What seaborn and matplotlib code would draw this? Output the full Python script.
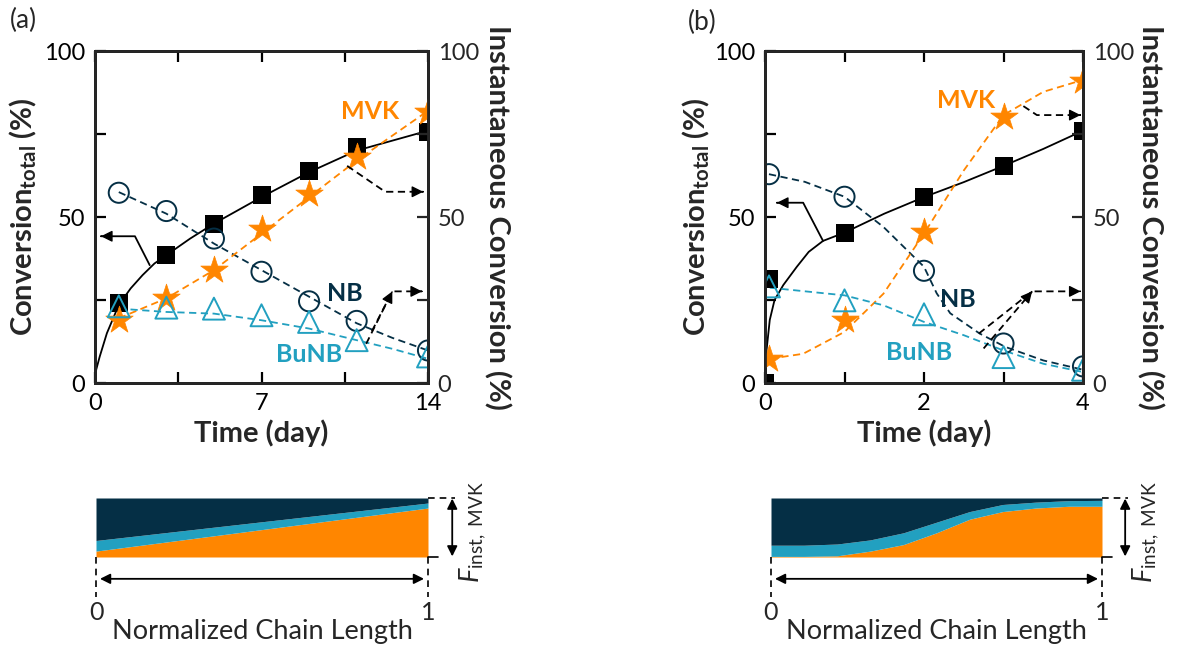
import matplotlib
matplotlib.use("Agg")
import matplotlib.pyplot as plt
import seaborn as sns
import pandas as pd

sns.set_theme(style="ticks")
FONT = "Lato"
plt.rcParams["font.family"] = [FONT, "DejaVu Sans"]
plt.rcParams["mathtext.fontset"] = "custom"
plt.rcParams["mathtext.rm"] = FONT
plt.rcParams["mathtext.bf"] = FONT + ":bold"
plt.rcParams["mathtext.it"] = FONT + ":italic"

NAVY = "#052F45"
LBLUE = "#22A0C0"
ORANGE = "#FF8600"

# ---------------- Panel (a) data ----------------
a_days = [1, 3, 5, 7, 9, 11, 14]
a_total = [24, 38.5, 48, 56.6, 63.8, 71.2, 75.7]
a_nb = [57.3, 51.8, 43.5, 33.5, 24.6, 18.7, 9.8]
a_mvk = [19.1, 25.6, 34, 46.5, 56.8, 68.1, 81.7]
a_bunb = [23.1, 22.7, 22.4, 20.4, 18.4, 12.9, 8.0]

a_fit_total_x = [0, 0.05, 0.2, 0.5, 1, 1.5, 2, 2.5, 3, 4, 5, 7, 9, 11, 14]
a_fit_total_y = [0, 4, 8, 15, 23.5, 28.5, 32.5, 36, 38.5, 43.5, 48, 56, 63.5, 70, 76]
a_fit_nb_x = [1, 3, 5, 7, 9, 11, 12.5, 14]
a_fit_nb_y = [57.5, 51, 42, 34, 26, 18, 13.6, 9.8]
a_fit_mvk_x = [1, 3, 5, 7, 9, 11, 14]
a_fit_mvk_y = [19.5, 25.5, 34, 45, 56, 67, 82]
a_fit_bunb_x = [1, 3, 5, 7, 9, 11, 12.5, 14]
a_fit_bunb_y = [22.4, 21.4, 20.9, 18.9, 16.4, 12.9, 10.3, 7.3]

# ---------------- Panel (b) data ----------------
b_days_total = [0, 0.05, 1, 2, 3, 4]
b_total = [0, 31.2, 45.3, 55.9, 65.4, 75.9]
b_days = [0.05, 1, 2, 3, 4]
b_nb = [62.9, 56.1, 33.8, 11.9, 5.0]
b_mvk = [7.3, 19.1, 45.5, 80.2, 91.0]
b_bunb = [29.1, 24.9, 20.7, 7.8, 4.0]

b_fit_total_x = [0, 0.02, 0.06, 0.12, 0.23, 0.4, 0.55, 0.73, 1, 1.5, 2, 2.5, 3, 3.5, 4]
b_fit_total_y = [0, 10, 19, 25, 29.5, 35, 39.5, 42.8, 45.3, 51, 56, 60.5, 65.4, 70.5, 76]
b_fit_nb_x = [0.05, 0.5, 1, 1.49, 2, 2.16, 2.33, 2.7, 3.02, 3.5, 4]
b_fit_nb_y = [62.9, 60.6, 56.1, 47, 35, 27, 21, 14.9, 10.9, 6.8, 4]
b_fit_mvk_x = [0.06, 0.48, 1, 1.49, 2, 2.5, 3, 3.5, 4]
b_fit_mvk_y = [7.3, 8.8, 15.4, 26.9, 45, 64, 80.7, 87.7, 91.3]
b_fit_bunb_x = [0.06, 1, 1.49, 2, 2.5, 3, 3.5, 4]
b_fit_bunb_y = [28.7, 26.4, 23.4, 18.4, 14.4, 9.8, 5.8, 3.3]

# ---------------- Chain-length bars ----------------
bar_a_x = [0, 1]
bar_a_orange = [0.10, 0.83]
bar_a_blue = [0.28, 0.915]
bar_b_x = [0, 0.1, 0.2, 0.3, 0.4, 0.5, 0.6, 0.7, 0.8, 0.9, 1.0]
bar_b_orange = [0.01, 0.01, 0.02, 0.10, 0.21, 0.41, 0.64, 0.77, 0.83, 0.86, 0.86]
bar_b_blue = [0.20, 0.20, 0.22, 0.29, 0.41, 0.59, 0.77, 0.89, 0.93, 0.955, 0.96]

LW = 1.3
DASH = (4, 2.5)
LABEL_FS = 21


def fit_line(ax, x, y, color, dashed=True):
    df = pd.DataFrame({"x": x, "y": y})
    line = sns.lineplot(data=df, x="x", y="y", ax=ax, color=color, lw=LW,
                        sort=False, estimator=None, zorder=2)
    if dashed:
        line.lines[-1].set_dashes(DASH)


def arrow_path(ax, xs, ys, dashed):
    ln, = ax.plot(xs, ys, color="black", lw=LW, zorder=4)
    if dashed:
        ln.set_dashes(DASH)
    ex, ey = xs[-1], ys[-1]
    px, py = xs[-2], ys[-2]
    ax.annotate("", xy=(ex, ey), xytext=(ex - (ex - px) * 0.01, ey - (ey - py) * 0.01),
                arrowprops=dict(arrowstyle="-|>", color="black", lw=1,
                                mutation_scale=17, shrinkA=0, shrinkB=0), zorder=5)


def main_panel(ax, xmax, xticks, xticklabels, days_total, total, days, nb, mvk, bunb,
               fits, arrows, labels, right_x):
    ax.set_xlim(0, xmax)
    ax.set_ylim(0, 100)
    (ftx, fty), (fnx, fny), (fmx, fmy), (fbx, fby) = fits
    fit_line(ax, ftx, fty, "black", dashed=False)
    fit_line(ax, fnx, fny, NAVY)
    fit_line(ax, fmx, fmy, ORANGE)
    fit_line(ax, fbx, fby, LBLUE)

    sns.scatterplot(x=days_total, y=total, marker="s", s=175, color="black",
                    edgecolor="black", linewidth=0, ax=ax, zorder=3)
    sns.scatterplot(x=days, y=nb, marker="o", s=210, facecolor="none",
                    edgecolor=NAVY, linewidth=1.4, ax=ax, zorder=3)
    sns.scatterplot(x=days, y=mvk, marker="*", s=430, color=ORANGE,
                    edgecolor=ORANGE, linewidth=0.5, ax=ax, zorder=3)
    sns.scatterplot(x=days, y=bunb, marker="^", s=250, facecolor="none",
                    edgecolor=LBLUE, linewidth=1.4, ax=ax, zorder=3)

    for xs, ys, dashed in arrows:
        arrow_path(ax, xs, ys, dashed)
    for (tx, ty, txt, col) in labels:
        ax.text(tx, ty, txt, color=col, fontsize=18, fontweight="bold",
                ha="center", va="center", zorder=6)

    ax.set_xticks(xticks)
    ax.set_xticklabels(xticklabels)
    ax.set_yticks([0, 25, 50, 75, 100])
    ax.set_yticklabels(["0", "", "50", "", "100"])
    ax.tick_params(direction="in", length=8, width=1.6, labelsize=17, top=True,
                   pad=7, colors="black")
    ax.set_xlabel("")
    ax.set_ylabel("")
    for sp in ax.spines.values():
        sp.set_linewidth(2)
        sp.set_color("black")
    tw = ax.twinx()
    tw.set_ylim(0, 100)
    tw.set_yticks([0, 25, 50, 75, 100])
    tw.set_yticklabels(["0", "", "50", "", "100"])
    tw.tick_params(direction="in", length=8, width=1.6, labelsize=17, pad=7)
    for sp in tw.spines.values():
        sp.set_linewidth(2)
    ax.text(0.5, -0.15, "Time (day)", transform=ax.transAxes, fontsize=LABEL_FS,
            fontweight="bold", ha="center", va="center")
    ax.text(-0.215, 0.5, r"Conversion$_{\mathbf{total}}$ (%)", transform=ax.transAxes,
            fontsize=LABEL_FS, fontweight="bold", ha="center", va="center", rotation=90)
    ax.text(right_x, 0.5, "Instantaneous Conversion (%)", transform=ax.transAxes,
            fontsize=LABEL_FS, fontweight="bold", ha="center", va="center", rotation=270)
    return tw


def bar_panel(ax, x, orange, blue, arrow_x):
    ax.fill_between(x, 0, orange, color=ORANGE, lw=0)
    ax.fill_between(x, orange, blue, color=LBLUE, lw=0)
    ax.fill_between(x, blue, 1, color=NAVY, lw=0)
    ax.set_xlim(0, 1)
    ax.set_ylim(0, 1)
    ax.axis("off")
    for xv in (0, 1):
        l, = ax.plot([xv, xv], [0, -0.68], color="black", lw=1.2, clip_on=False)
        l.set_dashes((4, 3))
    l, = ax.plot([1, 1.08], [1, 1], color="black", lw=1.2, clip_on=False)
    l.set_dashes((4, 3))
    ax.plot([1, 1.03], [0, 0], color="black", lw=1.2, clip_on=False)
    ax.annotate("", xy=(0.012, -0.37), xytext=(0.988, -0.37), xycoords="data",
                arrowprops=dict(arrowstyle="<|-|>", color="black", lw=1.3,
                                mutation_scale=15, shrinkA=0, shrinkB=0),
                annotation_clip=False)
    ax.annotate("", xy=(arrow_x, 0.99), xytext=(arrow_x, 0.01), xycoords="data",
                arrowprops=dict(arrowstyle="<|-|>", color="black", lw=1.3,
                                mutation_scale=15, shrinkA=0, shrinkB=0),
                annotation_clip=False)
    ax.text(0, -0.94, "0", fontsize=18, ha="center", va="center")
    ax.text(1, -0.94, "1", fontsize=18, ha="center", va="center")
    ax.text(0.5, -1.27, "Normalized Chain Length", fontsize=19.5, ha="center", va="center")
    ax.text(arrow_x + 0.062, 0.42, r"$\mathit{F}_{\mathrm{inst,\ MVK}}$", fontsize=19.5,
            ha="center", va="center", rotation=90)


fig = plt.figure(figsize=(11.96, 6.47), dpi=100)
W, H = 1196, 647


def ax_px(x0, x1, y0, y1):
    return fig.add_axes([x0 / W, 1 - y1 / H, (x1 - x0) / W, (y1 - y0) / H])


axA = ax_px(95, 428, 51, 383)
axB = ax_px(765, 1083, 51, 383)

main_panel(
    axA, 14, [0, 3.5, 7, 10.5, 14], ["0", "", "7", "", "14"],
    a_days, a_total, a_days, a_nb, a_mvk, a_bunb,
    [(a_fit_total_x, a_fit_total_y), (a_fit_nb_x, a_fit_nb_y),
     (a_fit_mvk_x, a_fit_mvk_y), (a_fit_bunb_x, a_fit_bunb_y)],
    [([2.3, 1.68, 0.25], [35.5, 44.2, 44.2], False),
     ([10.6, 12.2, 13.8], [65.4, 57.6, 57.6], True),
     ([11.64, 12.5, 13.75], [15.6, 27.6, 27.6], True),
     ([11.4, 12.5], [11.8, 27.6], True)],
    [(11.57, 81.7, "MVK", ORANGE), (10.5, 27, "NB", NAVY), (9.0, 8.6, "BuNB", LBLUE)],
    1.207,
)

main_panel(
    axB, 4, [0, 1, 2, 3, 4], ["0", "", "2", "", "4"],
    b_days_total, b_total, b_days, b_nb, b_mvk, b_bunb,
    [(b_fit_total_x, b_fit_total_y), (b_fit_nb_x, b_fit_nb_y),
     (b_fit_mvk_x, b_fit_mvk_y), (b_fit_bunb_x, b_fit_bunb_y)],
    [([0.73, 0.48, 0.15], [42.8, 54.3, 54.3], False),
     ([3.25, 3.42, 3.97], [83.4, 80.7, 80.7], True),
     ([2.69, 3.36, 3.97], [14.9, 27.6, 27.6], True),
     ([2.75, 3.36], [10.4, 27.6], True)],
    [(2.53, 85.2, "MVK", ORANGE), (2.42, 25.1, "NB", NAVY), (1.94, 9.3, "BuNB", LBLUE)],
    1.21,
)

fig.text(10 / W, 1 - 20 / H, "(a)", fontsize=19, ha="left", va="center")
fig.text(688 / W, 1 - 22 / H, "(b)", fontsize=19, ha="left", va="center")

barA = ax_px(96, 428, 498, 557)
bar_panel(barA, bar_a_x, bar_a_orange, bar_a_blue, 1.073)
barB = ax_px(771, 1102, 498, 557)
bar_panel(barB, bar_b_x, bar_b_orange, bar_b_blue, 1.07)

fig.savefig("out.png", dpi=100)
